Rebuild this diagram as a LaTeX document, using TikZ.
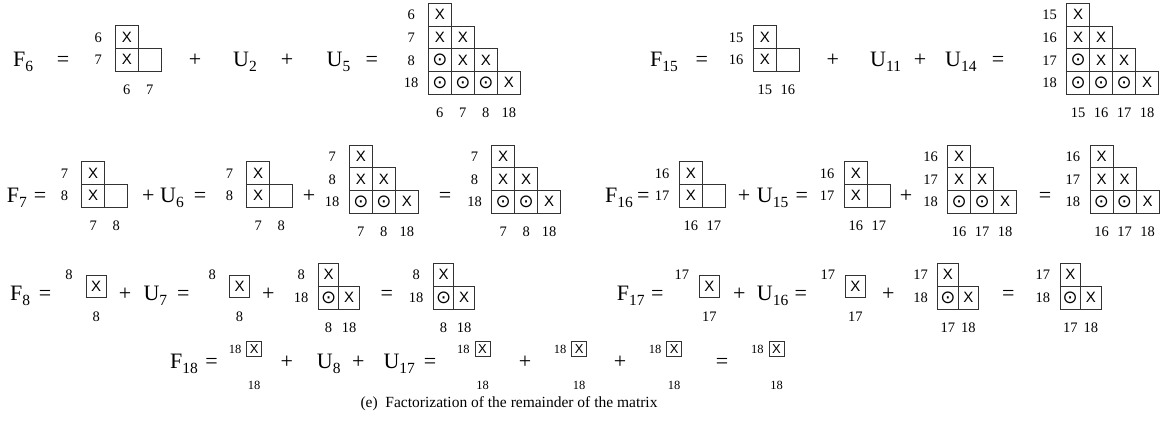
\documentclass[tikz,border=0pt]{standalone}
\usepackage{fontspec}
\setmainfont{Liberation Serif}
\newfontfamily\cellfont{Liberation Sans}
\newfontfamily\symfont{DejaVu Sans}
\usetikzlibrary{positioning}

\newcommand{\co}{{\symfont\fontsize{18}{18}\selectfont ⊙}}
\newcommand{\fv}[2]{#1\raisebox{-5pt}{\fontsize{15.5}{15.5}\selectfont #2}}
% cell size of the current block
\def\cw{23}
\def\ch{22.7}
% cell lists: column/row/entry
\def\cellsL{0/0/X, 0/1/X, 1/1/{}}
\def\cellsD{0/0/X, 0/1/X, 1/1/X, 0/2/\co, 1/2/X, 2/2/X, 0/3/\co, 1/3/\co, 2/3/\co, 3/3/X}
\def\cellsT{0/0/X, 0/1/X, 1/1/X, 0/2/\co, 1/2/\co, 2/2/X}
\def\cellsB{0/0/X, 0/1/\co, 1/1/X}
\def\cellsS{0/0/X}

\tikzset{
  eqt/.style={font=\fontsize{22}{22}\selectfont, inner sep=0pt, anchor=base},
  cell/.style={draw=black!80, line width=0.8pt, minimum width=\cw, minimum height=\ch, inner sep=0pt, font=\cellfont\fontsize{15}{15}\selectfont},
  rlab/.style={font=\fontsize{14.5}{14.5}\selectfont, inner sep=0pt, text height=10pt, text depth=0pt, minimum width=15pt, node distance=9pt},
  clab/.style={font=\fontsize{14.5}{14.5}\selectfont, inner sep=0pt, text height=10pt, text depth=0pt, node distance=13pt},
}

% [row label anchor] name, left, top, cells, last row, row labels, column labels
\newcommand{\mgrid}[8][]{%
  \foreach \ci/\ri/\tx in #5
    \node[cell] (#2-\ri-\ci) at ({#3+(\ci+0.5)*\cw},{#4+(\ri+0.5)*\ch}) {\tx};
  \foreach \ri/\tx in {#7}
    \node[rlab, left=of #2-\ri-0#1] (#2-r\ri) {\tx};
  \foreach \ci/\tx in {#8}
    \node[clab, below=of #2-#6-\ci] (#2-c\ci) {\tx};
}

\begin{document}
\begin{tikzpicture}[x=1pt,y=-1pt]
\useasboundingbox (0,0) rectangle (1166,434);

% row 1
\node[eqt, anchor=base west] (F6) at (13,66) {\fv{F}{6}};
\node[eqt] (eqA) at (63,66) {=};
\mgrid{fa}{115.3}{25.7}{\cellsL}{1}{0/6,1/7}{0/6,1/7}
\node[eqt] (plA) at (195,66) {+};
\node[eqt, anchor=base west] (U2) at (233,66) {\fv{U}{2}};
\node[eqt] (plB) at (287,66) {+};
\node[eqt, anchor=base west] (U5) at (326.5,66) {\fv{U}{5}};
\node[eqt] (eqB) at (371.7,66) {=};
\mgrid{fb}{428.3}{3.3}{\cellsD}{3}{0/6,1/7,2/8,3/18}{0/6,1/7,2/8,3/18}
\node[eqt, anchor=base west] (F15) at (650,66) {\fv{F}{15}};
\node[eqt] (eqC) at (701.7,66) {=};
\mgrid{fc}{753.3}{25.7}{\cellsL}{1}{0/15,1/16}{0/15,1/16}
\node[eqt] (plC) at (832.7,66) {+};
\node[eqt, anchor=base west] (U11) at (870,66) {\fv{U}{11}};
\node[eqt] (plD) at (920,66) {+};
\node[eqt, anchor=base west] (U14) at (945,66) {\fv{U}{14}};
\node[eqt] (eqD) at (998,66) {=};
\mgrid{fd}{1066.7}{3.3}{\cellsD}{3}{0/15,1/16,2/17,3/18}{0/15,1/16,2/17,3/18}

% row 2
\node[eqt, anchor=base west] (F7) at (6.7,202) {\fv{F}{7}};
\node[eqt] (eqE) at (40,202) {=};
\mgrid{ga}{81.7}{161.7}{\cellsL}{1}{0/7,1/8}{0/7,1/8}
\node[eqt] (plE) at (148.3,202) {+};
\node[eqt, anchor=base west] (U6) at (160,202) {\fv{U}{6}};
\node[eqt] (eqF) at (200,202) {=};
\mgrid{gb}{246.7}{161.7}{\cellsL}{1}{0/7,1/8}{0/7,1/8}
\node[eqt] (plF) at (309,202) {+};
\mgrid{gc}{349.3}{145}{\cellsT}{2}{0/7,1/8,2/18}{0/7,1/8,2/18}
\node[eqt] (eqG) at (445,202) {=};
\mgrid{gd}{491.7}{145}{\cellsT}{2}{0/7,1/8,2/18}{0/7,1/8,2/18}
\node[eqt, anchor=base west] (F16) at (605,202) {\fv{F}{16}};
\node[eqt] (eqH) at (643.3,202) {=};
\mgrid{ge}{679.3}{161.7}{\cellsL}{1}{0/16,1/17}{0/16,1/17}
\node[eqt] (plG) at (744,202) {+};
\node[eqt, anchor=base west] (U15) at (756.7,202) {\fv{U}{15}};
\node[eqt] (eqI) at (801.7,202) {=};
\mgrid{gf}{844.3}{161.7}{\cellsL}{1}{0/16,1/17}{0/16,1/17}
\node[eqt] (plH) at (906,202) {+};
\mgrid{gg}{947.7}{145}{\cellsT}{2}{0/16,1/17,2/18}{0/16,1/17,2/18}
\node[eqt] (eqJ) at (1045,202) {=};
\mgrid{gh}{1090}{145}{\cellsT}{2}{0/16,1/17,2/18}{0/16,1/17,2/18}

% row 3
\begin{scope}
\def\cw{20.5}\def\ch{22.8}
\node[eqt, anchor=base west] (F8) at (10,300.5) {\fv{F}{8}};
\node[eqt] (eqK) at (45,300.5) {=};
\mgrid[.north west]{ha}{86}{275}{\cellsS}{0}{0/8}{0/8}
\node[eqt] (plI) at (125,300.5) {+};
\node[eqt, anchor=base west] (U7) at (143.3,300.5) {\fv{U}{7}};
\node[eqt] (eqL) at (183.3,300.5) {=};
\mgrid[.north west]{hb}{229.3}{275}{\cellsS}{0}{0/8}{0/8}
\node[eqt] (plJ) at (268.3,300.5) {+};
\mgrid{hc}{318.3}{263.3}{\cellsB}{1}{0/8,1/18}{0/8,1/18}
\node[eqt] (eqM) at (386.7,300.5) {=};
\mgrid{hd}{433.3}{263.3}{\cellsB}{1}{0/8,1/18}{0/8,1/18}
\node[eqt, anchor=base west] (F17) at (616.7,300.5) {\fv{F}{17}};
\node[eqt] (eqN) at (657.3,300.5) {=};
\mgrid[.north west]{he}{699}{275}{\cellsS}{0}{0/17}{0/17}
\node[eqt] (plK) at (739.3,300.5) {+};
\node[eqt, anchor=base west] (U16) at (756.7,300.5) {\fv{U}{16}};
\node[eqt] (eqO) at (800.7,300.5) {=};
\mgrid[.north west]{hf}{845}{275}{\cellsS}{0}{0/17}{0/17}
\node[eqt] (plL) at (888.3,300.5) {+};
\mgrid{hg}{937.7}{263.3}{\cellsB}{1}{0/17,1/18}{0/17,1/18}
\node[eqt] (eqP) at (1008.3,300.5) {=};
\mgrid{hh}{1060}{263.3}{\cellsB}{1}{0/17,1/18}{0/17,1/18}
\end{scope}

% row 4
\begin{scope}[cell/.append style={font=\cellfont\fontsize{13}{13}\selectfont},
  rlab/.append style={font=\fontsize{12.5}{12.5}\selectfont, text height=9pt, node distance=3.5pt},
  clab/.append style={font=\fontsize{12.5}{12.5}\selectfont, text height=9pt, node distance=23pt}]
\def\cw{15}\def\ch{15}
\node[eqt, anchor=base west] (F18) at (170,368) {\fv{F}{18}};
\node[eqt] (eqQ) at (211.7,368) {=};
\mgrid{ka}{246.7}{341.7}{\cellsS}{0}{0/18}{0/18}
\node[eqt] (plM) at (286.7,368) {+};
\node[eqt, anchor=base west] (U8) at (316.7,368) {\fv{U}{8}};
\node[eqt] (plN) at (358.3,368) {+};
\node[eqt, anchor=base west] (U17) at (383.3,368) {\fv{U}{17}};
\node[eqt] (eqR) at (430,368) {=};
\mgrid{kb}{475}{341.7}{\cellsS}{0}{0/18}{0/18}
\node[eqt] (plO) at (525,368) {+};
\mgrid{kc}{571.7}{341.7}{\cellsS}{0}{0/18}{0/18}
\node[eqt] (plP) at (620,368) {+};
\mgrid{kd}{666.7}{341.7}{\cellsS}{0}{0/18}{0/18}
\node[eqt] (eqS) at (722,368) {=};
\mgrid{ke}{769}{341.7}{\cellsS}{0}{0/18}{0/18}
\end{scope}

\node[anchor=base, inner sep=0pt, font=\fontsize{15.5}{15.5}\selectfont] (cap) at (509,407) {(e)\ \ Factorization of the remainder of the matrix};
\end{tikzpicture}
\end{document}
